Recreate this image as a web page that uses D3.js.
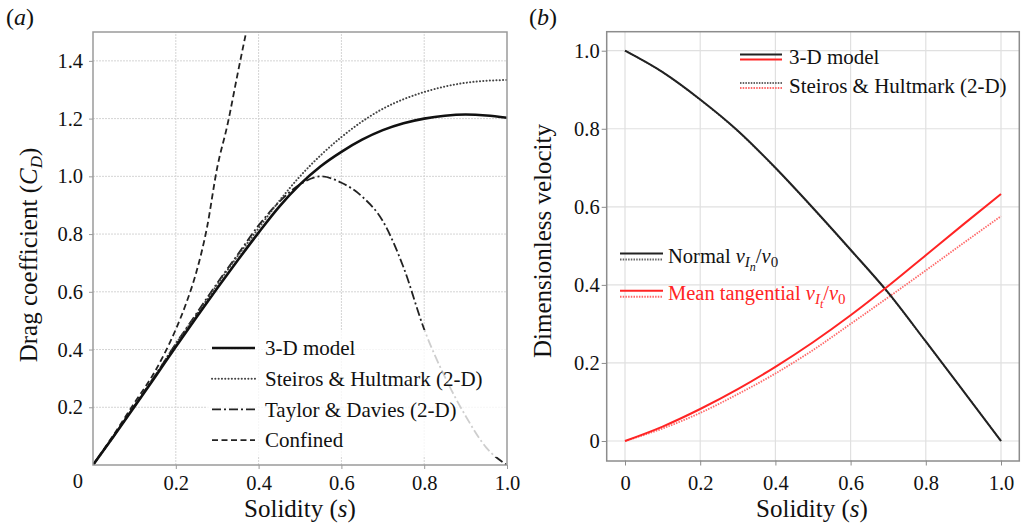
<!DOCTYPE html>
<html>
<head>
<meta charset="utf-8">
<script src="https://cdn.jsdelivr.net/npm/d3@7"></script>
</head>
<body style="margin:0">
<script>
// ---------------- DATA ----------------
// Panel (a): drag coefficient vs solidity
const sA = [0, 0.05, 0.1, 0.15, 0.2, 0.25, 0.3, 0.35, 0.4, 0.45, 0.5, 0.55, 0.6, 0.65, 0.7, 0.75, 0.8, 0.85, 0.9, 0.95, 1.0];
const cd3D = [0, 0.10, 0.202, 0.305, 0.41, 0.512, 0.612, 0.71, 0.805, 0.895, 0.972, 1.035, 1.085, 1.127, 1.16, 1.184, 1.2, 1.21, 1.214, 1.211, 1.203];
const cdSteiros = [0, 0.10, 0.205, 0.31, 0.42, 0.52, 0.625, 0.725, 0.82, 0.915, 1.0, 1.073, 1.136, 1.19, 1.234, 1.267, 1.292, 1.311, 1.324, 1.331, 1.334];
const cdTaylor = [0, 0.10, 0.205, 0.31, 0.42, 0.525, 0.63, 0.73, 0.83, 0.912, 0.972, 1.0, 0.978, 0.93, 0.845, 0.685, 0.47, 0.305, 0.17, 0.06, 0];
const sConfined = [0, 0.05, 0.1, 0.15, 0.2, 0.225, 0.25, 0.275, 0.3, 0.325, 0.35, 0.37];
const cdConfined = [0, 0.105, 0.215, 0.325, 0.47, 0.56, 0.67, 0.82, 1.03, 1.18, 1.36, 1.5];
const legendA = ["3-D model", "Steiros & Hultmark (2-D)", "Taylor & Davies (2-D)", "Confined"];

// Panel (b): dimensionless velocity vs solidity
const sB = [0, 0.1, 0.2, 0.3, 0.4, 0.5, 0.6, 0.7, 0.8, 0.9, 1.0];
const vnModel = [1.0, 0.945, 0.875, 0.795, 0.70, 0.597, 0.49, 0.38, 0.255, 0.128, 0.0];
const vnSteiros = [1.0, 0.945, 0.874, 0.794, 0.699, 0.596, 0.489, 0.379, 0.254, 0.128, 0.0];
const vtModel = [0, 0.037, 0.082, 0.133, 0.19, 0.253, 0.322, 0.397, 0.476, 0.555, 0.633];
const vtSteiros = [0, 0.032, 0.072, 0.12, 0.173, 0.233, 0.30, 0.368, 0.437, 0.507, 0.576];
const legendB = ["3-D model", "Steiros & Hultmark (2-D)"];

// Ticks
const xTicks = [0, 0.2, 0.4, 0.6, 0.8, 1.0];
const yTicksA = [0, 0.2, 0.4, 0.6, 0.8, 1.0, 1.2, 1.4];
const yTicksB = [0, 0.2, 0.4, 0.6, 0.8, 1.0];

// ---------------- DRAW ----------------
const W = 1023, H = 528;
const FONT = '"Liberation Serif"';
const TICK_FS = 20.5, TITLE_FS = 25, LEG_FS = 21;
const svg = d3.select("body").append("svg")
  .attr("width", W).attr("height", H).style("display", "block");
svg.append("rect").attr("width", W).attr("height", H).attr("fill", "#fff");

const fmt = d => d === 0 ? "0" : d3.format(".1f")(d);

// ===== Panel (a) =====
const xA = d3.scaleLinear().domain([0, 1]).range([93, 507]);
const yA = d3.scaleLinear().domain([0, 1.5]).range([465, 32]);
const gA = svg.append("g");

gA.append("g").selectAll("line").data(xTicks.slice(1, -1)).join("line")
  .attr("x1", d => xA(d)).attr("x2", d => xA(d))
  .attr("y1", yA.range()[0]).attr("y2", yA.range()[1])
  .attr("stroke", "#d4d4d4").attr("stroke-width", 1).attr("stroke-dasharray", "2,1");
gA.append("g").selectAll("line").data(yTicksA.slice(1)).join("line")
  .attr("x1", xA.range()[0]).attr("x2", xA.range()[1])
  .attr("y1", d => yA(d)).attr("y2", d => yA(d))
  .attr("stroke", "#d4d4d4").attr("stroke-width", 1).attr("stroke-dasharray", "2,1");

svg.append("defs").append("clipPath").attr("id", "clipA")
  .append("rect").attr("x", 93).attr("y", 32).attr("width", 414).attr("height", 433);

const lineA = d3.line().x(d => xA(d[0])).y(d => yA(d[1])).curve(d3.curveMonotoneX);
const curvesA = gA.append("g").attr("clip-path", "url(#clipA)");

const styleA = [
  { w: 2.6, dash: null, cap: "butt", c: "#111" },
  { w: 2.0, dash: "0.1,3.2", cap: "round", c: "#444" },
  { w: 1.8, dash: "9,3,2,3", cap: "butt", c: "#222" },
  { w: 1.8, dash: "6,3.5", cap: "butt", c: "#222" }
];
const seriesA = [
  sA.map((s, i) => [s, cd3D[i]]),
  sA.map((s, i) => [s, cdSteiros[i]]),
  sA.map((s, i) => [s, cdTaylor[i]]),
  sConfined.map((s, i) => [s, cdConfined[i]])
];
[3, 2, 1, 0].forEach(k => {
  curvesA.append("path").datum(seriesA[k])
    .attr("d", lineA).attr("fill", "none")
    .attr("stroke", styleA[k].c).attr("stroke-width", styleA[k].w)
    .attr("stroke-linecap", styleA[k].cap)
    .attr("stroke-dasharray", styleA[k].dash);
});

// legend (a)
gA.append("rect").attr("x", 207).attr("y", 330).attr("width", 299).attr("height", 127)
  .attr("fill", "#fff").attr("fill-opacity", 0.78);
const legA = gA.append("g");
legendA.forEach((t, i) => {
  const y = 348 + i * 30.7;
  legA.append("line").attr("x1", 212).attr("x2", 255).attr("y1", y).attr("y2", y)
    .attr("stroke", styleA[i].c).attr("stroke-width", styleA[i].w)
    .attr("stroke-linecap", styleA[i].cap)
    .attr("stroke-dasharray", styleA[i].dash);
  legA.append("text").attr("x", 265).attr("y", y).attr("dy", "0.35em")
    .attr("font-size", LEG_FS).attr("fill", "#111").text(t);
});

gA.append("rect").attr("x", 93).attr("y", 32).attr("width", 414).attr("height", 433)
  .attr("fill", "none").attr("stroke", "#9a9a9a").attr("stroke-width", 1.5);

const axLA = gA.append("g").attr("transform", "translate(93,0)")
  .call(d3.axisLeft(yA).tickValues(yTicksA.slice(1)).tickFormat(fmt).tickSize(4).tickPadding(6));
const axBA = gA.append("g").attr("transform", "translate(0,465)")
  .call(d3.axisBottom(xA).tickValues(xTicks.slice(1)).tickFormat(fmt).tickSize(4).tickPadding(6));
[axLA, axBA].forEach(ax => {
  ax.attr("font-family", null);
  ax.select(".domain").remove();
  ax.selectAll(".tick line").attr("stroke", "#9a9a9a");
  ax.selectAll("text").attr("font-size", TICK_FS).attr("fill", "#111");
});
gA.append("text").attr("x", 83).attr("y", 488).attr("text-anchor", "end")
  .attr("font-size", TICK_FS).attr("fill", "#111").text(fmt(yTicksA[0]));

gA.append("text").attr("x", 300).attr("y", 517).attr("text-anchor", "middle")
  .attr("font-size", TITLE_FS).attr("fill", "#111")
  .call(t => { t.append("tspan").text("Solidity ("); t.append("tspan").attr("font-style", "italic").text("s"); t.append("tspan").text(")"); });
gA.append("text").attr("transform", "translate(37,255) rotate(-90)").attr("text-anchor", "middle")
  .attr("font-size", TITLE_FS).attr("fill", "#111")
  .call(t => {
    t.append("tspan").text("Drag coefficient (");
    t.append("tspan").attr("font-style", "italic").text("C");
    t.append("tspan").attr("font-style", "italic").attr("font-size", 17).attr("dy", 5).text("D");
    t.append("tspan").attr("dy", -5).text(")");
  });
gA.append("text").attr("x", 6).attr("y", 25).attr("font-size", 24).attr("fill", "#111")
  .call(t => { t.append("tspan").text("("); t.append("tspan").attr("font-style", "italic").text("a"); t.append("tspan").text(")"); });

// ===== Panel (b) =====
const xB = d3.scaleLinear().domain([-0.05, 1.05]).range([606.2, 1019.8]);
const yB = d3.scaleLinear().domain([-0.05, 1.05]).range([460.5, 31.2]);
const gB = svg.append("g");

gB.append("g").selectAll("line").data(xTicks).join("line")
  .attr("x1", d => xB(d)).attr("x2", d => xB(d))
  .attr("y1", yB.range()[0]).attr("y2", yB.range()[1])
  .attr("stroke", "#e0e0e0").attr("stroke-width", 1.2);
gB.append("g").selectAll("line").data(yTicksB).join("line")
  .attr("x1", xB.range()[0]).attr("x2", xB.range()[1])
  .attr("y1", d => yB(d)).attr("y2", d => yB(d))
  .attr("stroke", "#e0e0e0").attr("stroke-width", 1.2);

const lineB = d3.line().x(d => xB(d[0])).y(d => yB(d[1])).curve(d3.curveMonotoneX);
const RED = "#ff2424", RED_D = "#ff6a6a", BLK = "#222", BLK_D = "#666";
const seriesB = [
  { v: vnSteiros, c: BLK_D, w: 1.6, dash: "1.5,1.2" },
  { v: vtSteiros, c: RED_D, w: 1.8, dash: "1.5,1.2" },
  { v: vnModel, c: BLK, w: 2.0, dash: null },
  { v: vtModel, c: RED, w: 2.0, dash: null }
];
seriesB.forEach(sr => {
  gB.append("path").datum(sB.map((s, i) => [s, sr.v[i]]))
    .attr("d", lineB).attr("fill", "none")
    .attr("stroke", sr.c).attr("stroke-width", sr.w)
    .attr("stroke-dasharray", sr.dash);
});

gB.append("rect").attr("x", xB.range()[0] + 0.5).attr("y", yB.range()[1] + 0.5)
  .attr("width", xB.range()[1] - xB.range()[0] - 1).attr("height", yB.range()[0] - yB.range()[1])
  .attr("fill", "none").attr("stroke", "#8c8c8c").attr("stroke-width", 1.5);

const axLB = gB.append("g").attr("transform", `translate(${xB.range()[0] + 0.5},0)`)
  .call(d3.axisLeft(yB).tickValues(yTicksB).tickFormat(fmt).tickSize(5).tickPadding(2));
const axBB = gB.append("g").attr("transform", `translate(0,${yB.range()[0]})`)
  .call(d3.axisBottom(xB).tickValues(xTicks).tickFormat(fmt).tickSize(5).tickPadding(10));
[axLB, axBB].forEach(ax => {
  ax.attr("font-family", null);
  ax.select(".domain").remove();
  ax.selectAll(".tick line").attr("stroke", "#8c8c8c");
  ax.selectAll("text").attr("font-size", TICK_FS).attr("fill", "#111");
});

gB.append("text").attr("x", 812).attr("y", 517).attr("text-anchor", "middle")
  .attr("font-size", TITLE_FS).attr("fill", "#111")
  .call(t => { t.append("tspan").text("Solidity ("); t.append("tspan").attr("font-style", "italic").text("s"); t.append("tspan").text(")"); });
gB.append("text").attr("transform", "translate(551,241) rotate(-90)").attr("text-anchor", "middle")
  .attr("font-size", TITLE_FS).attr("fill", "#111").text("Dimensionless velocity");
gB.append("text").attr("x", 529).attr("y", 25).attr("font-size", 24).attr("fill", "#111")
  .call(t => { t.append("tspan").text("("); t.append("tspan").attr("font-style", "italic").text("b"); t.append("tspan").text(")"); });

const legB = gB.append("g");
[[BLK, RED, null], [BLK_D, RED_D, "1.5,1.2"]].forEach((p, i) => {
  const y0 = 54.5 + i * 28.5;
  legB.append("line").attr("x1", 740).attr("x2", 782).attr("y1", y0).attr("y2", y0)
    .attr("stroke", p[0]).attr("stroke-width", 2).attr("stroke-dasharray", p[2]);
  legB.append("line").attr("x1", 740).attr("x2", 782).attr("y1", y0 + 5).attr("y2", y0 + 5)
    .attr("stroke", p[1]).attr("stroke-width", 2).attr("stroke-dasharray", p[2]);
  legB.append("text").attr("x", 789).attr("y", y0 + 2.5).attr("dy", "0.35em")
    .attr("font-size", LEG_FS).attr("fill", "#111").text(legendB[i]);
});

function mathLabel(sel, word, sub2, color) {
  sel.append("tspan").attr("fill", color).text(word + " ");
  sel.append("tspan").attr("font-style", "italic").text("v");
  sel.append("tspan").attr("font-style", "italic").attr("font-size", 15).attr("dy", 4).text("I");
  sel.append("tspan").attr("font-style", "italic").attr("font-size", 12).attr("dy", 4).text(sub2);
  sel.append("tspan").attr("dy", -8).text("/");
  sel.append("tspan").attr("font-style", "italic").text("v");
  sel.append("tspan").attr("font-size", 15).attr("dy", 4).text("0");
}
[[BLK, BLK_D, "Normal", "n", "#111"], [RED, RED_D, "Mean tangential", "t", RED]].forEach((p, i) => {
  const y0 = 253.5 + i * 37.3;
  legB.append("line").attr("x1", 620).attr("x2", 663).attr("y1", y0).attr("y2", y0)
    .attr("stroke", p[0]).attr("stroke-width", 2);
  legB.append("line").attr("x1", 620).attr("x2", 663).attr("y1", y0 + 6).attr("y2", y0 + 6)
    .attr("stroke", p[1]).attr("stroke-width", 2).attr("stroke-dasharray", "1.5,1.2");
  const t = legB.append("text").attr("x", 668).attr("y", y0 + 9)
    .attr("font-size", 20.5).attr("fill", p[4]);
  mathLabel(t, p[2], p[3], p[4]);
});

// apply the serif font to every text and tspan element directly
svg.selectAll("text, tspan").style("font-family", FONT);
</script>
</body>
</html>
